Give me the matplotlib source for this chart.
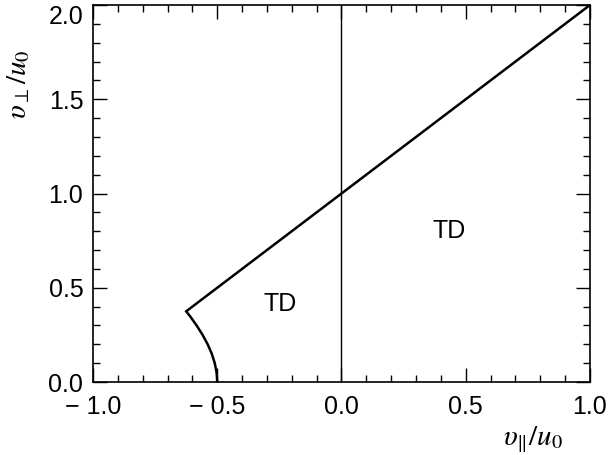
import matplotlib
matplotlib.use('Agg')
from matplotlib import pyplot as plt
from matplotlib.ticker import MultipleLocator

# boundary curve (v_par, v_perp)
arc_x = [-0.5, -0.5025, -0.510, -0.522, -0.5385, -0.559, -0.583, -0.610, -0.625]
arc_y = [0.0, 0.05, 0.10, 0.15, 0.20, 0.25, 0.30, 0.35, 0.375]
# straight branch from the corner to the top right
line_x = [-0.625, 1.0]
line_y = [0.375, 2.0]
# region labels
label_text = ['TD', 'TD']
label_x = [-0.2475, 0.433]
label_y = [0.414, 0.80]

plt.rcParams['mathtext.fontset'] = 'stix'
plt.rcParams['font.family'] = ['Liberation Sans', 'DejaVu Sans']

fig = plt.figure(figsize=(6.09, 4.55), dpi=100)
ax = fig.add_axes([0.1527, 0.1604, 0.8161, 0.8286])

ax.plot(arc_x + line_x[1:], arc_y + line_y[1:], color='black', lw=1.8,
        solid_joinstyle='miter')
ax.axvline(0.0, color='black', lw=1.0)

for t, x, y in zip(label_text, label_x, label_y):
    ax.text(x, y, t, fontsize=18, ha='center', va='center')

ax.set_xlim(-1.0, 1.0)
ax.set_ylim(0.0, 2.0)
ax.xaxis.set_major_locator(MultipleLocator(0.5))
ax.xaxis.set_minor_locator(MultipleLocator(0.1))
ax.yaxis.set_major_locator(MultipleLocator(0.5))
ax.yaxis.set_minor_locator(MultipleLocator(0.1))
ax.xaxis.set_major_formatter(plt.FuncFormatter(lambda v, p: f'{v:.1f}'.replace('-', '\u2212 ')))
ax.yaxis.set_major_formatter(plt.FuncFormatter(lambda v, p: f'{v:.1f}'))
ax.tick_params(which='both', direction='in', top=True, right=True,
               labelsize=18, width=1.0)
ax.tick_params(axis='x', which='major', pad=9)
ax.tick_params(axis='y', which='major', pad=7)
ax.tick_params(which='major', length=10)
ax.tick_params(which='minor', length=5)
for s in ax.spines.values():
    s.set_linewidth(1.2)

ax.set_xlabel(r'$\upsilon_{\Vert}/u_0$', fontsize=21)
ax.xaxis.set_label_coords(0.946, -0.152)
ax.xaxis.label.set_horizontalalignment('right')
ax.xaxis.label.set_verticalalignment('center')
ax.set_ylabel(r'$\upsilon_{\perp}/u_0$', fontsize=21)
ax.yaxis.set_label_coords(-0.151, 0.79)
ax.yaxis.label.set_verticalalignment('center')

# the top y label sits below the axis edge, as in the reference
fig.canvas.draw()
for lab in ax.get_yticklabels():
    if lab.get_text() == '2.0':
        lab.set_verticalalignment('top')

fig.savefig('out.png', dpi=100)
